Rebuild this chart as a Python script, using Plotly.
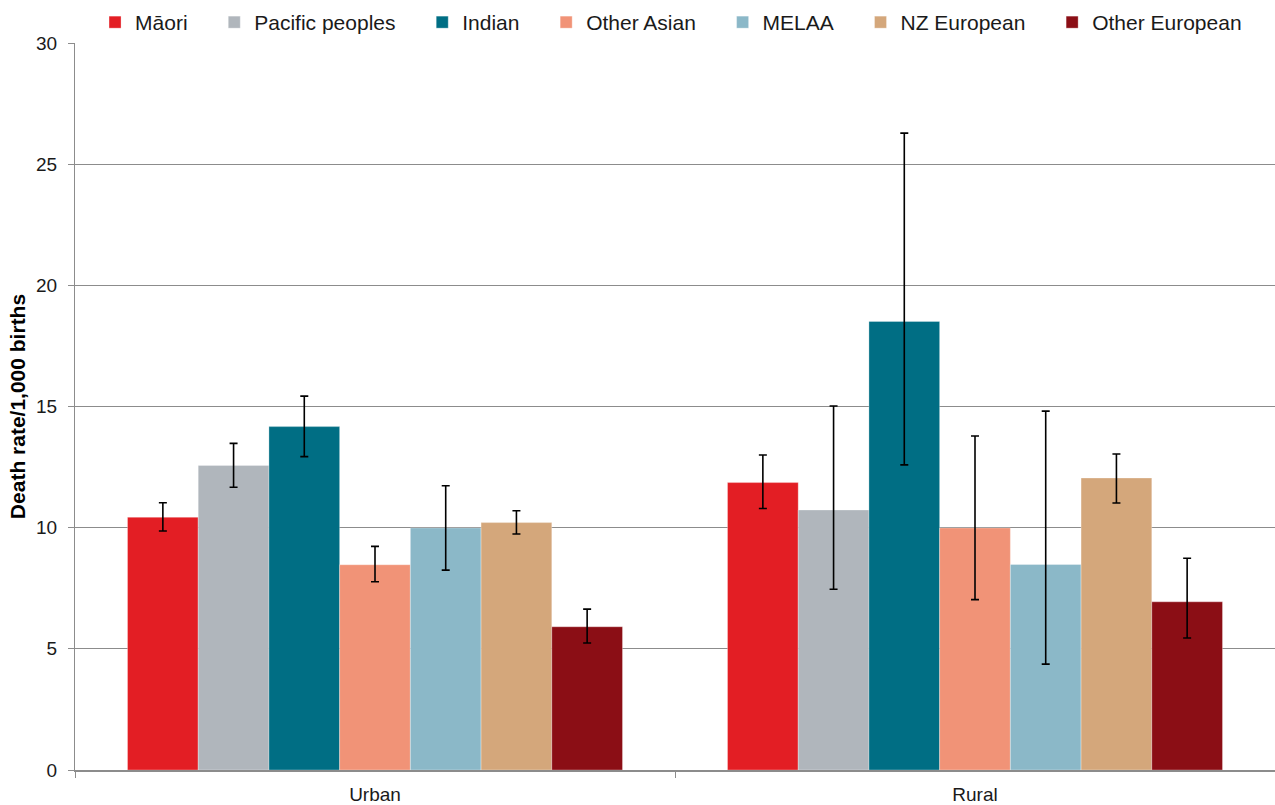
import plotly.graph_objects as go

categories = ["Urban", "Rural"]
groups = ["Māori", "Pacific peoples", "Indian", "Other Asian", "MELAA", "NZ European", "Other European"]
colors = ["#E31E24", "#B0B6BC", "#006E84", "#F19377", "#8BB8C8", "#D4A77B", "#8B0E15"]

# rate per 1,000 births: [Urban, Rural]
rates = {
    "Māori": [10.43, 11.86],
    "Pacific peoples": [12.57, 10.73],
    "Indian": [14.17, 18.51],
    "Other Asian": [8.47, 9.99],
    "MELAA": [9.99, 8.48],
    "NZ European": [10.21, 12.05],
    "Other European": [5.91, 6.94],
}
upper = {
    "Māori": [11.03, 13.0],
    "Pacific peoples": [13.48, 15.02],
    "Indian": [15.43, 26.28],
    "Other Asian": [9.23, 13.78],
    "MELAA": [11.73, 14.81],
    "NZ European": [10.70, 13.04],
    "Other European": [6.64, 8.74],
}
lower = {
    "Māori": [9.86, 10.79],
    "Pacific peoples": [11.67, 7.46],
    "Indian": [12.93, 12.59],
    "Other Asian": [7.77, 7.03],
    "MELAA": [8.25, 4.37],
    "NZ European": [9.74, 11.02],
    "Other European": [5.24, 5.45],
}

# invisible padding after each legend label to widen spacing between entries
PAD = "\u00a0\u00a0\u00a0\u2009"

fig = go.Figure()
for g, c in zip(groups, colors):
    v = rates[g]
    fig.add_trace(go.Bar(
        name=g + PAD, x=categories, y=v,
        marker=dict(color=c, line=dict(color="rgba(255,255,255,0.6)", width=0.5)),
        error_y=dict(
            type="data", symmetric=False,
            array=[u - m for u, m in zip(upper[g], v)],
            arrayminus=[m - l for l, m in zip(lower[g], v)],
            color="black", thickness=1.6, width=4,
        ),
    ))

fig.update_layout(
    width=1275, height=805,
    margin=dict(l=75, r=0, t=43, b=35),
    paper_bgcolor="white", plot_bgcolor="white",
    barmode="group", bargap=0.175, bargroupgap=0,
    font=dict(family="Liberation Sans, Arial, sans-serif", size=14, color="#000000"),
    legend=dict(orientation="h", x=0.0167, xanchor="left", y=1.0, yanchor="bottom",
                font=dict(size=21, color="#1a1a1a"), itemwidth=30,
                traceorder="normal"),
    showlegend=True,
)
fig.update_yaxes(
    range=[0, 30], dtick=5, showgrid=True, gridcolor="#8C8C8C", gridwidth=1,
    showline=True, linecolor="#8C8C8C", linewidth=1,
    ticks="outside", ticklen=6, tickcolor="#8C8C8C",
    ticklabelstandoff=7,
    tickfont=dict(size=19, color="#1a1a1a"),
    title=dict(text="<b>Death rate/1,000 births</b>", standoff=4,
               font=dict(family="Liberation Sans Narrow, Arial Narrow, Liberation Sans, sans-serif", size=21)),
    zeroline=False,
)
fig.update_xaxes(
    showline=True, linecolor="#8C8C8C", linewidth=1.5,
    ticks="outside", tickson="boundaries", ticklen=6, tickcolor="#8C8C8C",
    ticklabelstandoff=6,
    tickfont=dict(size=19, color="#1a1a1a"),
)

fig.write_html("out.html")
